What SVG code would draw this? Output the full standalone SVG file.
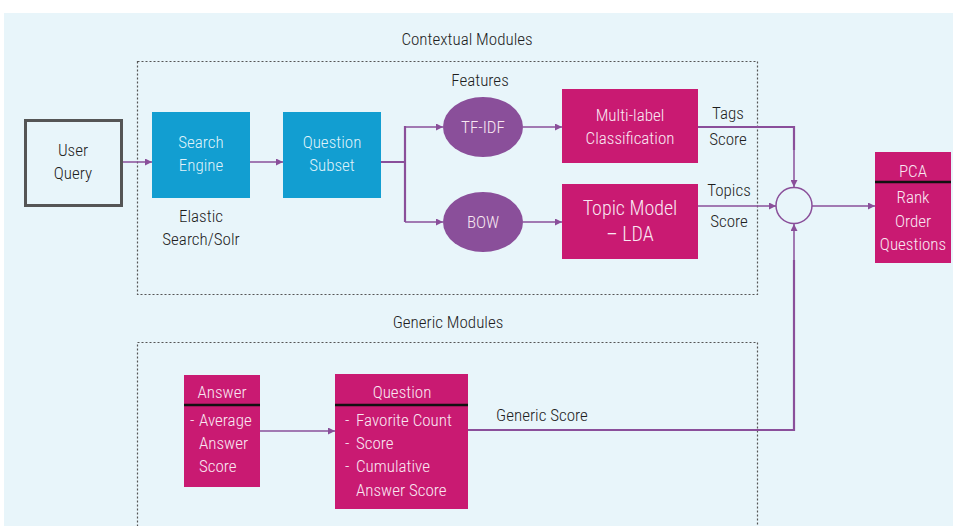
<svg xmlns="http://www.w3.org/2000/svg" width="953" height="526" viewBox="0 0 953 526">
  <style>
    text { font-family: "Roboto Condensed", "Liberation Sans Narrow", "DejaVu Sans Condensed", "Liberation Sans", sans-serif; font-weight: 300; text-anchor: middle; }
    .lbl { fill: #1e1e1e; font-size: 17px; }
    .in { fill: #f9e8f2; font-size: 17px; }
    .inb { fill: #dff2fa; font-size: 17px; }
    .start { text-anchor: start; }
    .frame { fill: none; stroke: #555; stroke-width: 1.2; stroke-dasharray: 2 2; }
    .blue { fill: #129ed1; }
    .mag { fill: #c91a72; }
    .feat { fill: #8a4f9a; }
    .link { fill: none; stroke: #8a4f9a; stroke-width: 1.5; }
    .thick { fill: none; stroke: #8a4f9a; stroke-width: 2.2; }
    .rule { stroke: #111; stroke-width: 2.5; }
  </style>
  <defs>
    <marker id="arr" viewBox="0 0 8 8" refX="8" refY="4" markerWidth="7" markerHeight="7" markerUnits="userSpaceOnUse" orient="auto">
      <path d="M0,0 L8,4 L0,8 z" fill="#8a4f9a"/>
    </marker>
  </defs>

  <!-- backdrop -->
  <rect x="4" y="13" width="949" height="513" fill="#e8f5fa"/>

  <!-- module frames -->
  <g id="contextual-modules">
    <rect class="frame" x="137.5" y="61.5" width="620" height="233"/>
    <text class="lbl" x="467" y="45">Contextual Modules</text>
  </g>
  <g id="generic-modules">
    <rect class="frame" x="137.5" y="342.5" width="620" height="200"/>
    <text class="lbl" x="448" y="328">Generic Modules</text>
  </g>

  <!-- connectors -->
  <g id="connectors">
    <line class="link" x1="123" y1="162" x2="152" y2="162" marker-end="url(#arr)"/>
    <line class="link" x1="250" y1="162" x2="283" y2="162" marker-end="url(#arr)"/>
    <path class="thick" d="M381,162 H405 M405,126 V222"/>
    <path class="link" d="M405,127 H443" marker-end="url(#arr)"/>
    <path class="link" d="M405,222 H443" marker-end="url(#arr)"/>
    <line class="link" x1="523" y1="127" x2="562" y2="127" marker-end="url(#arr)"/>
    <line class="link" x1="523" y1="222" x2="562" y2="222" marker-end="url(#arr)"/>
    <path class="thick" d="M698,127 H794 V150"/>
    <path class="link" d="M794,148 V187" marker-end="url(#arr)"/>
    <line class="link" x1="698" y1="206" x2="776" y2="206" marker-end="url(#arr)"/>
    <line class="link" x1="812" y1="206" x2="875" y2="206" marker-end="url(#arr)"/>
    <path class="thick" d="M468,430 H794 V260"/>
    <path class="link" d="M794,262 V224" marker-end="url(#arr)"/>
    <line class="link" x1="260" y1="431" x2="335" y2="431" marker-end="url(#arr)"/>
    <text class="lbl" x="728" y="119">Tags</text>
    <text class="lbl" x="728" y="145">Score</text>
    <text class="lbl" x="729" y="196">Topics</text>
    <text class="lbl" x="729" y="227">Score</text>
    <text class="lbl" x="542" y="421">Generic Score</text>
  </g>

  <g id="user-query">
    <rect x="25.5" y="120.5" width="96" height="85" fill="none" stroke="#555" stroke-width="3"/>
    <text class="lbl" x="73" y="156">User</text>
    <text class="lbl" x="73" y="179">Query</text>
  </g>

  <g id="search-engine">
    <rect class="blue" x="152" y="112" width="98" height="86"/>
    <text class="inb" x="201" y="148">Search</text>
    <text class="inb" x="201" y="171">Engine</text>
    <text class="lbl" x="201" y="222">Elastic</text>
    <text class="lbl" x="201" y="245">Search/Solr</text>
  </g>

  <g id="question-subset">
    <rect class="blue" x="283" y="112" width="98" height="86"/>
    <text class="inb" x="332" y="148">Question</text>
    <text class="inb" x="332" y="171">Subset</text>
  </g>

  <g id="features">
    <text class="lbl" x="480" y="86">Features</text>
  </g>

  <g id="tf-idf">
    <ellipse class="feat" cx="483" cy="127" rx="40" ry="30"/>
    <text class="in" x="483" y="133">TF-IDF</text>
  </g>

  <g id="bow">
    <ellipse class="feat" cx="483" cy="222" rx="40" ry="30"/>
    <text class="in" x="483" y="228">BOW</text>
  </g>

  <g id="multi-label">
    <rect class="mag" x="562" y="89" width="136" height="74"/>
    <text class="in" x="630" y="121">Multi-label</text>
    <text class="in" x="630" y="144">Classification</text>
  </g>

  <g id="topic-model">
    <rect class="mag" x="562" y="184" width="136" height="75"/>
    <text class="in" x="630" y="215" style="font-size:20px">Topic Model</text>
    <text class="in" x="630" y="241" style="font-size:20px">– LDA</text>
  </g>

  <g id="combiner">
    <circle cx="794" cy="205.5" r="18" fill="none" stroke="#8a4f9a" stroke-width="1.5"/>
  </g>

  <g id="pca">
    <rect class="mag" x="875" y="152" width="76" height="111"/>
    <line class="rule" x1="875" y1="182" x2="951" y2="182"/>
    <text class="in" x="913" y="177">PCA</text>
    <text class="in" x="913" y="203">Rank</text>
    <text class="in" x="913" y="227">Order</text>
    <text class="in" x="913" y="250">Questions</text>
  </g>

  <g id="answer">
    <rect class="mag" x="184" y="375" width="76" height="112"/>
    <line class="rule" x1="184" y1="405" x2="260" y2="405"/>
    <text class="in" x="222" y="398">Answer</text>
    <text class="in start" x="190" y="426">-</text>
    <text class="in start" x="199" y="426">Average</text>
    <text class="in start" x="199" y="449">Answer</text>
    <text class="in start" x="199" y="472">Score</text>
  </g>

  <g id="question">
    <rect class="mag" x="335" y="374" width="133" height="135"/>
    <line class="rule" x1="335" y1="405" x2="468" y2="405"/>
    <text class="in" x="402" y="398">Question</text>
    <text class="in start" x="345" y="426">-</text>
    <text class="in start" x="356" y="426">Favorite Count</text>
    <text class="in start" x="345" y="449">-</text>
    <text class="in start" x="356" y="449">Score</text>
    <text class="in start" x="345" y="472">-</text>
    <text class="in start" x="356" y="472">Cumulative</text>
    <text class="in start" x="356" y="496">Answer Score</text>
  </g>
</svg>
